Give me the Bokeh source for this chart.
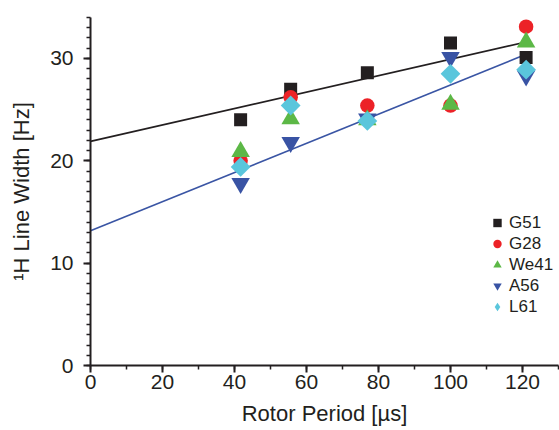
import numpy as np
from bokeh.plotting import figure
from bokeh.models import Range1d, Legend, LegendItem, FixedTicker
from bokeh.embed import file_html
from bokeh.resources import INLINE

# Data
period = [41.7, 55.6, 76.9, 100.0, 121.0]
G51 = [24.0, 27.0, 28.6, 31.5, 30.1]
G28 = [20.0, 26.2, 25.4, 25.4, 33.1]
We41 = [20.9, 24.1, 24.0, 25.5, 31.6]
A56 = [17.8, 21.8, 24.1, 30.1, 28.3]
L61 = [19.4, 25.4, 23.9, 28.5, 28.9]
x_ticks = [0, 20, 40, 60, 80, 100, 120]
y_ticks = [0, 10, 20, 30]

FONT = "Liberation Sans"
INK = "#231f20"
C_G51, C_G28, C_We41, C_A56, C_L61 = INK, "#ec2227", "#5cb846", "#3953a4", "#5ac6dc"

p = figure(width=559, height=430, output_backend="svg", toolbar_location=None,
           x_range=Range1d(0, 130), y_range=Range1d(0, 34),
           min_border_left=90, min_border_right=1, min_border_top=17, min_border_bottom=65)
p.outline_line_color = None
p.xgrid.visible = False
p.ygrid.visible = False

# fit lines
for series, col in ((G51, INK), (A56, "#3a55a4")):
    k, b = np.polyfit(period, series, 1)
    xs = np.array([0.0, max(period)])
    p.line(xs, k * xs + b, line_color=col, line_width=1.6)

r1 = p.scatter(period, G51, marker="square", size=13, fill_color=C_G51, line_color=None)
r2 = p.scatter(period, G28, marker="circle", size=14.5, fill_color=C_G28, line_color=None)
r3 = p.scatter(period, We41, marker="triangle", size=18.5, fill_color=C_We41, line_color=None)
r4 = p.scatter(period, A56, marker="inverted_triangle", size=18.5, fill_color=C_A56, line_color=None)
# diamond glyph (used for the legend), hidden under the rotated squares
r5_leg = p.scatter(period, L61, marker="diamond", size=14, fill_color=C_L61, line_color=None)
r5 = p.scatter(period, L61, marker="square", angle=np.pi / 4, size=14, fill_color=C_L61, line_color=None)

legend = Legend(items=[LegendItem(label="G51", renderers=[r1]),
                       LegendItem(label="G28", renderers=[r2]),
                       LegendItem(label="We41", renderers=[r3]),
                       LegendItem(label="A56", renderers=[r4]),
                       LegendItem(label="L61", renderers=[r5_leg])],
                location=(395, 48), glyph_width=24, glyph_height=21, spacing=0,
                label_height=21, label_standoff=0, padding=0, margin=0, border_line_color=None,
                background_fill_alpha=0, label_text_font=FONT, label_text_font_size="17px",
                label_text_color=INK)
p.add_layout(legend)

for ax in (p.xaxis[0], p.yaxis[0]):
    ax.axis_line_width = 2
    ax.axis_line_color = INK
    ax.major_tick_line_color = INK
    ax.minor_tick_line_color = INK
    ax.major_tick_line_width = 2
    ax.minor_tick_line_width = 1.5
    ax.major_tick_in = 0
    ax.major_tick_out = 7
    ax.minor_tick_in = 0
    ax.minor_tick_out = 4
    ax.major_label_text_font = FONT
    ax.major_label_text_font_size = "21px"
    ax.major_label_text_color = INK
    ax.axis_label_text_font = FONT
    ax.axis_label_text_font_size = "22px"
    ax.axis_label_text_font_style = "normal"
    ax.axis_label_text_color = INK

p.xaxis.ticker = FixedTicker(ticks=x_ticks, minor_ticks=list(range(0, 131, 10)))
p.yaxis.ticker = FixedTicker(ticks=y_ticks, minor_ticks=list(range(0, 35, 1)))
p.xaxis.axis_label = "Rotor Period [µs]"
p.yaxis.axis_label = "¹H Line Width [Hz]"
p.xaxis.major_label_standoff = 2
p.yaxis.major_label_standoff = 10
p.xaxis.axis_label_standoff = 9
p.yaxis.axis_label_standoff = 13

open("out.html", "w").write(file_html(p, INLINE))
